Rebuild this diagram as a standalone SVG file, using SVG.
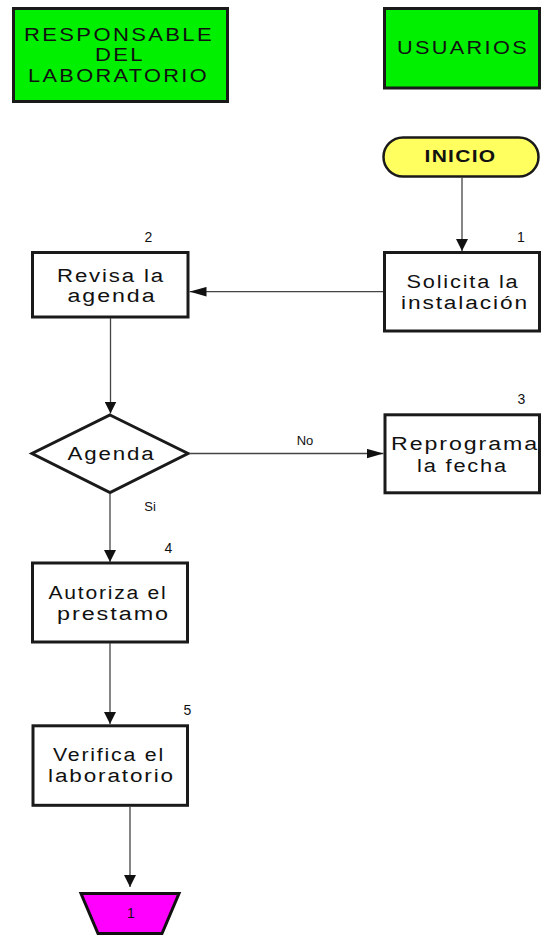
<svg xmlns="http://www.w3.org/2000/svg" width="542" height="935" viewBox="0 0 542 935">
<style>
  text { font-family: "Liberation Sans", Arial, sans-serif; fill: #111; text-anchor: middle; }
  .hdr { fill: #00F000; stroke: #1a1a1a; stroke-width: 3; }
  .box { fill: #ffffff; stroke: #1a1a1a; stroke-width: 3; }
  .t18 { font-size: 18.5px; letter-spacing: 2px; }
  .t17 { font-size: 18px; letter-spacing: 1.5px; }
  .num { font-size: 14px; }
  .lbl { font-size: 13px; }
  .conn line { stroke: #444; stroke-width: 1.3; fill: none; }
</style>
<defs>
  <marker id="av" markerUnits="userSpaceOnUse" markerWidth="12" markerHeight="12" viewBox="0 0 11 11" refX="11" refY="5.5" orient="auto">
    <path d="M0,0 L11,5.5 L0,11 Z" fill="#111"/>
  </marker>
  <marker id="ah" markerUnits="userSpaceOnUse" markerWidth="17" markerHeight="10" viewBox="0 0 16 9" refX="16" refY="4.5" orient="auto">
    <path d="M0,0 L16,4.5 L0,9 Z" fill="#111"/>
  </marker>
</defs>
<rect width="542" height="935" fill="#ffffff"/>

<g id="hdr-responsable">
  <rect class="hdr" x="13.5" y="8.5" width="214" height="93"/>
  <text class="t18" x="119" y="40.5" textLength="190" lengthAdjust="spacingAndGlyphs">RESPONSABLE</text>
  <text class="t18" x="120" y="61" textLength="50" lengthAdjust="spacingAndGlyphs">DEL</text>
  <text class="t18" x="118.5" y="82" textLength="181" lengthAdjust="spacingAndGlyphs">LABORATORIO</text>
</g>

<g id="hdr-usuarios">
  <rect class="hdr" x="384.5" y="8.5" width="155" height="79.5"/>
  <text class="t18" x="463" y="53.5" textLength="132" lengthAdjust="spacingAndGlyphs">USUARIOS</text>
</g>

<g id="inicio">
  <rect x="383.5" y="137.5" width="155" height="39" rx="19.5" ry="19.5" fill="#FFFF60" stroke="#1a1a1a" stroke-width="2.5"/>
  <text x="460.5" y="161.5" font-size="16" font-weight="bold" letter-spacing="1" textLength="72" lengthAdjust="spacingAndGlyphs">INICIO</text>
</g>

<g id="solicita">
  <rect class="box" x="384.5" y="252.5" width="155" height="78.5"/>
  <text class="num" x="521" y="242">1</text>
  <text class="t17" x="463" y="287.5" textLength="113" lengthAdjust="spacingAndGlyphs">Solicita la</text>
  <text class="t17" x="465" y="308.5" textLength="128" lengthAdjust="spacingAndGlyphs">instalación</text>
</g>

<g id="revisa">
  <rect class="box" x="32.5" y="252.5" width="155.5" height="64.5"/>
  <text class="num" x="148.5" y="242">2</text>
  <text class="t17" x="111" y="281.5" textLength="108" lengthAdjust="spacingAndGlyphs">Revisa la</text>
  <text class="t17" x="112" y="301.5" textLength="89" lengthAdjust="spacingAndGlyphs">agenda</text>
</g>

<g id="agenda">
  <polygon class="box" points="110,415 188,453.5 110,492.5 32,453.5"/>
  <text class="t17" x="111.5" y="460" textLength="88" lengthAdjust="spacingAndGlyphs">Agenda</text>
</g>

<g id="reprograma">
  <rect class="box" x="385" y="414.8" width="154.5" height="78"/>
  <text class="num" x="521.5" y="404">3</text>
  <text class="t17" x="465" y="450" textLength="148" lengthAdjust="spacingAndGlyphs">Reprograma</text>
  <text class="t17" x="462.5" y="471.5" textLength="91" lengthAdjust="spacingAndGlyphs">la fecha</text>
</g>

<g id="autoriza">
  <rect class="box" x="32.5" y="563" width="155" height="79"/>
  <text class="num" x="168.5" y="553">4</text>
  <text class="t17" x="108" y="598.5" textLength="119" lengthAdjust="spacingAndGlyphs">Autoriza el</text>
  <text class="t17" x="113.5" y="619.5" textLength="113" lengthAdjust="spacingAndGlyphs">prestamo</text>
</g>

<g id="verifica">
  <rect class="box" x="33" y="725.8" width="154.5" height="79.5"/>
  <text class="num" x="187.5" y="715">5</text>
  <text class="t17" x="109" y="760.5" textLength="112" lengthAdjust="spacingAndGlyphs">Verifica el</text>
  <text class="t17" x="111.5" y="781.5" textLength="127" lengthAdjust="spacingAndGlyphs">laboratorio</text>
</g>

<g id="conector-1">
  <polygon points="81,893.5 179,893.5 162,933.5 98,933.5" fill="#FF00FF" stroke="#111" stroke-width="3"/>
  <text class="num" x="131" y="918">1</text>
</g>

<g id="connectors" class="conn">
  <line x1="462" y1="177" x2="462" y2="251" marker-end="url(#av)"/>
  <line x1="383" y1="291.7" x2="189.5" y2="291.7" marker-end="url(#ah)"/>
  <line x1="110.5" y1="318" x2="110.5" y2="413.5" marker-end="url(#av)"/>
  <line x1="189" y1="453.5" x2="383.5" y2="453.5" marker-end="url(#ah)"/>
  <line x1="110" y1="494" x2="110" y2="562" marker-end="url(#av)"/>
  <line x1="110" y1="643" x2="110" y2="724" marker-end="url(#av)"/>
  <line x1="130" y1="806.5" x2="130" y2="887" marker-end="url(#av)"/>
</g>

<g id="labels">
  <text class="lbl" x="305" y="444.5">No</text>
  <text class="lbl" x="150" y="511">Si</text>
</g>
</svg>
